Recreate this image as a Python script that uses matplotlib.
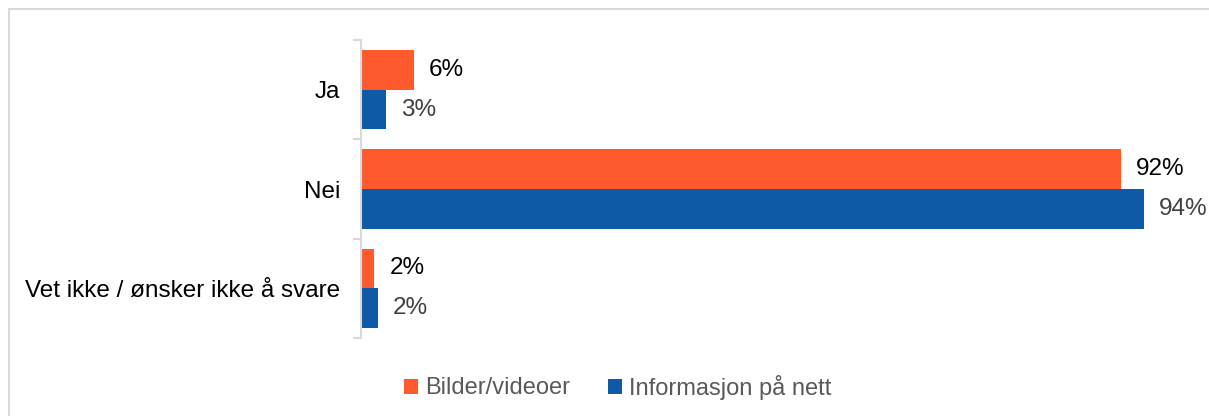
import matplotlib
matplotlib.use("Agg")
import matplotlib.pyplot as plt
from matplotlib.patches import Rectangle
import numpy as np

categories = ["Ja", "Nei", "Vet ikke / ønsker ikke å svare"]
series_names = ["Bilder/videoer", "Informasjon på nett"]
bilder = [6.4, 91.6, 1.6]
informasjon = [3.0, 94.3, 2.0]
bilder_labels = ["6%", "92%", "2%"]
informasjon_labels = ["3%", "94%", "2%"]

c_orange = "#FF5A2E"
c_blue = "#0E5AA7"
FS = 17.5

plt.rcParams['font.family'] = ['Liberation Sans', 'DejaVu Sans']

W, H = 1209, 416
fig = plt.figure(figsize=(W / 100, H / 100), dpi=100)
fig.patches.append(Rectangle((9 / W, -0.1), 1.2, 1 - 9 / H + 0.1, transform=fig.transFigure,
                             fill=False, edgecolor="#D9D9D9", linewidth=1.5))

ax = fig.add_axes([361 / W, 1 - 338 / H, (1191 - 361) / W, (338 - 40) / H])
y = np.arange(len(categories))
h = 0.4
ax.barh(y - h / 2, bilder, height=h, color=c_orange, label=series_names[0])
ax.barh(y + h / 2, informasjon, height=h, color=c_blue, label=series_names[1])

for yi, v, lab in zip(y, bilder, bilder_labels):
    ax.annotate(lab, (v, yi - h / 2), xytext=(15, 0), textcoords="offset pixels",
                va="center", ha="left", fontsize=FS, color="black")
for yi, v, lab in zip(y, informasjon, informasjon_labels):
    ax.annotate(lab, (v, yi + h / 2), xytext=(15, 0), textcoords="offset pixels",
                va="center", ha="left", fontsize=FS, color="#404040")

ax.set_xlim(0, 100)
ax.set_ylim(len(categories) - 0.5, -0.5)
ax.set_xticks([])
ax.set_yticks(y)
ax.set_yticklabels(categories, fontsize=FS)
ax.set_yticks(np.arange(-0.5, len(categories)), minor=True)
ax.tick_params(axis="y", which="major", length=0, pad=15)
ax.tick_params(axis="y", which="minor", length=6, color="#D9D9D9", width=1.5)
for s in ["top", "right", "bottom"]:
    ax.spines[s].set_visible(False)
ax.spines["left"].set_color("#D9D9D9")
ax.spines["left"].set_linewidth(1.5)

leg = fig.legend(loc="center", bbox_to_anchor=(618 / W, 1 - 387 / H), ncol=2, frameon=False,
                 fontsize=17, handlelength=0.6, handleheight=0.6, handletextpad=0.3,
                 columnspacing=1.6)
for t in leg.get_texts():
    t.set_color("#595959")

fig.savefig("out.png", dpi=100)
